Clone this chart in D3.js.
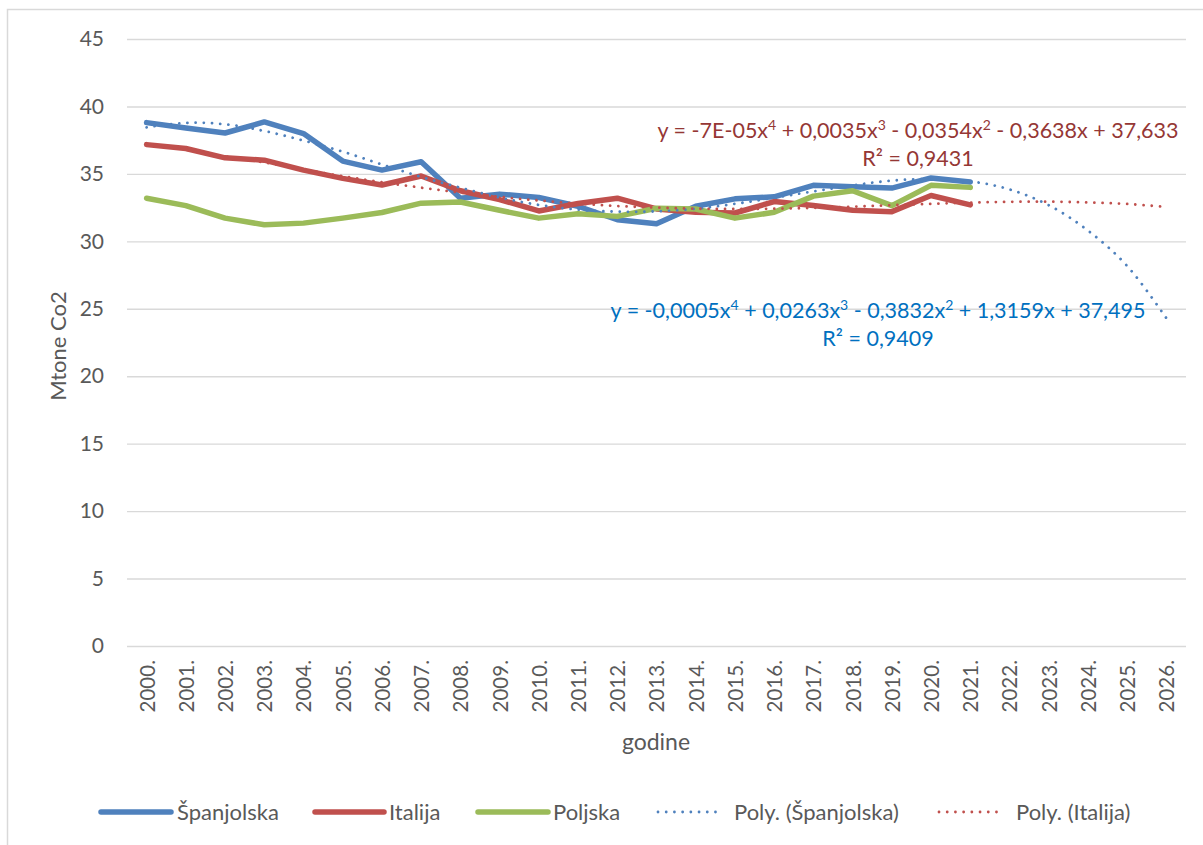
<!DOCTYPE html>
<html>
<head>
<meta charset="utf-8">
<script src="https://cdn.jsdelivr.net/npm/d3@7"></script>
<style>
  body { margin: 0; background: #fff; }
  text { font-family: Lato, "Open Sans", sans-serif; fill: #595959; }
</style>
</head>
<body>
<svg id="chart" width="1203" height="845"></svg>
<script>
// categories (trend lines run 5 periods past the data)
const years = ["2000.", "2001.", "2002.", "2003.", "2004.", "2005.", "2006.", "2007.", "2008.",
  "2009.", "2010.", "2011.", "2012.", "2013.", "2014.", "2015.", "2016.", "2017.", "2018.",
  "2019.", "2020.", "2021.", "2022.", "2023.", "2024.", "2025.", "2026."];

// Mtone Co2, 2000.-2021.
const spanjolska = [38.8, 38.4, 38.03, 38.85, 37.99, 35.95, 35.28, 35.9, 33.2, 33.5, 33.25,
  32.6, 31.6, 31.3, 32.6, 33.15, 33.3, 34.15, 34.05, 33.95, 34.7, 34.4];
const italija = [37.17, 36.88, 36.19, 36.02, 35.28, 34.67, 34.18, 34.84, 33.75, 33.1, 32.25,
  32.8, 33.2, 32.4, 32.15, 32.1, 32.95, 32.65, 32.3, 32.2, 33.4, 32.7];
const poljska = [33.19, 32.65, 31.72, 31.23, 31.35, 31.72, 32.14, 32.83, 32.92, 32.3, 31.72,
  32.05, 31.85, 32.45, 32.4, 31.72, 32.15, 33.35, 33.75, 32.65, 34.15, 34.0];

// polynomial trend lines, 2000.-2026.
const polySpanjolska = [38.45, 38.78, 38.68, 38.18, 37.47, 36.65, 35.7, 34.78, 33.98, 33.25,
  32.7, 32.35, 32.2, 32.22, 32.42, 32.78, 33.23, 33.7, 34.15, 34.5, 34.62, 34.45, 33.85,
  32.68, 30.8, 28.17, 24.3];
const polyItalija = [37.25, 36.8, 36.3, 35.85, 35.33, 34.83, 34.38, 33.98, 33.62, 33.3, 33.03,
  32.8, 32.62, 32.5, 32.42, 32.4, 32.42, 32.48, 32.57, 32.68, 32.78, 32.87, 32.93, 32.94,
  32.88, 32.77, 32.55];

const yTicks = [0, 5, 10, 15, 20, 25, 30, 35, 40, 45];

const eqItalija = ["y = -7E-05x^4 + 0,0035x^3 - 0,0354x^2 - 0,3638x + 37,633", "R² = 0,9431"];
const eqSpanjolska = ["y = -0,0005x^4 + 0,0263x^3 - 0,3832x^2 + 1,3159x + 37,495", "R² = 0,9409"];

const colors = { es: "#4f81bd", it: "#c0504d", pl: "#9bbb59" };

const svg = d3.select("#chart");
const left = 127, right = 1186;

svg.append("rect")
  .attr("x", 7.5).attr("y", 9.5)
  .attr("width", 1300).attr("height", 900)
  .attr("fill", "#fff")
  .attr("stroke", "#d9d9d9")
  .attr("stroke-width", 1.5);

const x = d3.scalePoint().domain(years).range([left, right]).padding(0.5);
const y = d3.scaleLinear().domain([0, 45]).range([646, 39]);

// y axis + gridlines
const yAxis = svg.append("g")
  .attr("transform", `translate(${left},0)`)
  .call(d3.axisLeft(y).tickValues(yTicks).tickSize(-(right - left)).tickPadding(23));
yAxis.select(".domain").remove();
yAxis.selectAll(".tick line").attr("stroke", "#d9d9d9").attr("stroke-width", 1.4);
yAxis.selectAll(".tick text")
  .attr("font-size", 21)
  .attr("font-family", null)
  .attr("fill", "#595959");
yAxis.attr("font-family", null);

// x axis
const xAxis = svg.append("g")
  .attr("transform", "translate(0,646)")
  .call(d3.axisBottom(x).tickSize(0));
xAxis.select(".domain").remove();
xAxis.attr("font-family", null);
xAxis.selectAll(".tick text")
  .attr("font-size", 20.5)
  .attr("fill", "#595959")
  .attr("transform", "rotate(-90)")
  .attr("x", -14)
  .attr("y", 0)
  .attr("dy", "0.36em")
  .attr("text-anchor", "end");

// axis titles
svg.append("text")
  .attr("transform", "translate(58,346) rotate(-90)")
  .attr("dy", "0.35em")
  .attr("text-anchor", "middle")
  .attr("font-size", 22)
  .text("Mtone Co2");

svg.append("text")
  .attr("x", 656).attr("y", 750)
  .attr("text-anchor", "middle")
  .attr("font-size", 23)
  .text("godine");

const line = d3.line()
  .x((d, i) => x(years[i]))
  .y(d => y(d));

const trend = d3.line()
  .x((d, i) => x(years[i]))
  .y(d => y(d))
  .curve(d3.curveCatmullRom);

[[spanjolska, colors.es], [italija, colors.it], [poljska, colors.pl]].forEach(([vals, c]) => {
  svg.append("path")
    .datum(vals)
    .attr("d", line)
    .attr("fill", "none")
    .attr("stroke", c)
    .attr("stroke-width", 5.5)
    .attr("stroke-linejoin", "round")
    .attr("stroke-linecap", "round");
});

[[polySpanjolska, colors.es], [polyItalija, colors.it]].forEach(([vals, c]) => {
  svg.append("path")
    .datum(vals)
    .attr("d", trend)
    .attr("fill", "none")
    .attr("stroke", c)
    .attr("stroke-width", 2.8)
    .attr("stroke-dasharray", "0.01 8.2")
    .attr("stroke-linecap", "round");
});

// trend equations, "^n" marks a superscript
function equation(lines, cx, y0, color) {
  lines.forEach((str, k) => {
    const t = svg.append("text")
      .attr("x", cx).attr("y", y0 + k * 28)
      .attr("text-anchor", "middle")
      .attr("font-size", 21.5)
      .style("fill", color);
    str.split(/\^(\d)/).forEach((part, i) => {
      const ts = t.append("tspan").text(part);
      if (i % 2 === 1) ts.attr("font-size", 14).attr("dy", -8);
      else if (i > 0) ts.attr("dy", 8);
    });
  });
}
equation(eqItalija, 918, 138, "#953735");
equation(eqSpanjolska, 878, 318, "#0070c0");

// legend
const legendItems = [
  { name: "Španjolska", color: colors.es, dotted: false, x0: 101, x1: 171, tx: 177 },
  { name: "Italija", color: colors.it, dotted: false, x0: 315, x1: 384, tx: 389 },
  { name: "Poljska", color: colors.pl, dotted: false, x0: 478, x1: 548, tx: 553 },
  { name: "Poly. (Španjolska)", color: colors.es, dotted: true, x0: 658, x1: 722, tx: 734 },
  { name: "Poly. (Italija)", color: colors.it, dotted: true, x0: 939, x1: 1003, tx: 1016 }
];
const ly = 812;
const legend = svg.append("g");
legendItems.forEach(d => {
  legend.append("line")
    .attr("x1", d.x0).attr("x2", d.x1)
    .attr("y1", ly).attr("y2", ly)
    .attr("stroke", d.color)
    .attr("stroke-width", d.dotted ? 2.8 : 5.5)
    .attr("stroke-linecap", "round")
    .attr("stroke-dasharray", d.dotted ? "0.01 8.2" : null);
  legend.append("text")
    .attr("x", d.tx).attr("y", ly)
    .attr("dy", "0.35em")
    .attr("font-size", 22)
    .text(d.name);
});
</script>
</body>
</html>
